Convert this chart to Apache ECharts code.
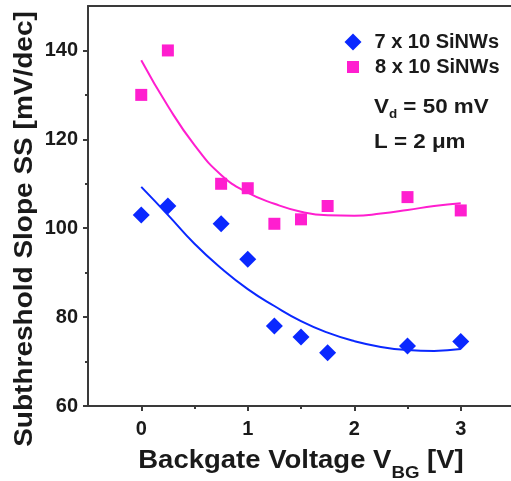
<!DOCTYPE html>
<html>
<head>
<meta charset="utf-8">
<script src="https://cdn.jsdelivr.net/npm/echarts@6/dist/echarts.min.js"></script>
<style>html,body{margin:0;padding:0;background:#fff}#c{width:511px;height:481px}</style>
</head>
<body>
<div id="c"></div>
<script>
// Measured data
const vbg = [0, 0.25, 0.75, 1.0, 1.25, 1.5, 1.75, 2.5, 3.0];
const ss7x10 = [103, 105, 101, 93, 78, 75.5, 72, 73.5, 74.5];
const ss8x10 = [130, 140, 110, 109, 101, 102, 105, 107, 104];
// Fit curves
const fitX = [0, 0.25, 0.5, 0.75, 1.0, 1.25, 1.5, 1.75, 2.0, 2.25, 2.5, 2.75, 3.0];
const fit7x10 = [109.3, 103, 96.5, 91, 86.3, 82.5, 79.1, 76.5, 74.6, 73.3, 72.6, 72.4, 72.8];
const fit8x10 = [137.8, 127.5, 118.7, 112, 108, 105.5, 103.7, 102.9, 102.8, 103.3, 104.1, 105, 105.6];
const xTicks = [0, 1, 2, 3];
const xMinorTicks = [0.5, 1.5, 2.5];
const yTicks = [60, 80, 100, 120, 140];
const yMinorTicks = [70, 90, 110, 130];
const seriesNames = ['7 x 10 SiNWs', '8 x 10 SiNWs'];

const BLUE = '#0a28ff';
const MAG = '#ff1ecf';
const FONT = 'Liberation Sans, Arial, sans-serif';
const AX = '#3a3a3a';
const TXT = '#1a1a1a';

const zip = (xs, ys) => xs.map((x, i) => [x, ys[i]]);

const chart = echarts.init(document.getElementById('c'));
chart.setOption({
  animation: false,
  backgroundColor: '#fff',
  grid: { left: 88, top: 6, right: -3, bottom: 75, outerBoundsMode: 'none' },
  xAxis: [{
    type: 'value', min: -0.5, max: 3.5,
    axisLine: { show: true, onZero: false, lineStyle: { color: AX, width: 2 } },
    axisTick: { show: true, length: 5, customValues: xTicks, lineStyle: { color: AX, width: 2 } },
    axisLabel: {
      customValues: xTicks,
      fontFamily: FONT, fontWeight: 'bold', fontSize: 20, color: TXT, margin: 13
    },
    splitLine: { show: false }
  }, {
    type: 'value', min: -0.5, max: 3.5, position: 'bottom',
    axisLine: { show: false, onZero: false },
    axisTick: { show: true, length: 3, customValues: xMinorTicks, lineStyle: { color: AX, width: 2 } },
    axisLabel: { show: false }, splitLine: { show: false }
  }, {
    type: 'value', min: -0.5, max: 3.5, position: 'top',
    axisLine: { show: true, onZero: false, lineStyle: { color: AX, width: 2 } },
    axisTick: { show: false }, axisLabel: { show: false }, splitLine: { show: false }
  }],
  yAxis: [{
    type: 'value', min: 60, max: 150,
    axisLine: { show: true, onZero: false, lineStyle: { color: AX, width: 2 } },
    axisTick: { show: true, length: 5, customValues: yTicks, lineStyle: { color: AX, width: 2 } },
    axisLabel: {
      customValues: yTicks,
      fontFamily: FONT, fontWeight: 'bold', fontSize: 20, color: TXT, margin: 10
    },
    splitLine: { show: false }
  }, {
    type: 'value', min: 60, max: 150, position: 'left',
    axisLine: { show: false, onZero: false },
    axisTick: { show: true, length: 3, customValues: yMinorTicks, lineStyle: { color: AX, width: 2 } },
    axisLabel: { show: false }, splitLine: { show: false }
  }],
  graphic: [{
    type: 'text', x: 25, y: 229, rotation: Math.PI / 2, scaleX: 1.12,
    style: {
      text: 'Subthreshold Slope SS [mV/dec]', fontFamily: FONT, fontWeight: 'bold',
      fontSize: 25, fill: TXT, align: 'center', verticalAlign: 'middle'
    }
  }, {
    type: 'text', x: 301, y: 461, scaleX: 1.1,
    style: {
      text: 'Backgate Voltage V{sub|BG} [V]', fontFamily: FONT, fontWeight: 'bold',
      fontSize: 25, fill: TXT, align: 'center', verticalAlign: 'middle', lineHeight: 42,
      rich: { sub: { fontFamily: FONT, fontWeight: 'bold', fontSize: 17, fill: TXT, lineHeight: 17, verticalAlign: 'bottom' } }
    }
  }, {
    type: 'text', x: 374, y: 107, scaleX: 1.12,
    style: {
      text: 'V{sub|d} = 50 mV', fontFamily: FONT, fontWeight: 'bold', fontSize: 20, fill: TXT,
      align: 'left', verticalAlign: 'middle', lineHeight: 28,
      rich: { sub: { fontFamily: FONT, fontWeight: 'bold', fontSize: 12, fill: TXT, lineHeight: 12, verticalAlign: 'bottom' } }
    }
  }, {
    type: 'text', x: 374, y: 142, scaleX: 1.12,
    style: {
      text: 'L = 2 μm', fontFamily: FONT, fontWeight: 'bold', fontSize: 20, fill: TXT,
      align: 'left', verticalAlign: 'middle'
    }
  }],
  legend: [{
    data: [seriesNames[0]], left: 339.5, top: 27, itemWidth: 17, itemHeight: 17,
    textStyle: { fontFamily: FONT, fontWeight: 'bold', fontSize: 20, color: TXT, padding: [0, 0, 0, 8] }
  }, {
    data: [seriesNames[1]], left: 342, top: 52, itemWidth: 12, itemHeight: 12,
    textStyle: { fontFamily: FONT, fontWeight: 'bold', fontSize: 20, color: TXT, padding: [0, 0, 0, 11] }
  }],
  series: [{
    name: 'fit7', type: 'line', data: zip(fitX, fit7x10), smooth: 0.5, showSymbol: false,
    lineStyle: { color: BLUE, width: 2 }, z: 2
  }, {
    name: 'fit8', type: 'line', data: zip(fitX, fit8x10), smooth: 0.5, showSymbol: false,
    lineStyle: { color: MAG, width: 2 }, z: 2
  }, {
    name: seriesNames[0], type: 'scatter', data: zip(vbg, ss7x10), symbol: 'diamond', symbolSize: 17,
    itemStyle: { color: BLUE, opacity: 1 }, z: 3
  }, {
    name: seriesNames[1], type: 'scatter', data: zip(vbg, ss8x10), symbol: 'rect', symbolSize: 12,
    itemStyle: { color: MAG, opacity: 1 }, z: 3
  }]
});
</script>
</body>
</html>
